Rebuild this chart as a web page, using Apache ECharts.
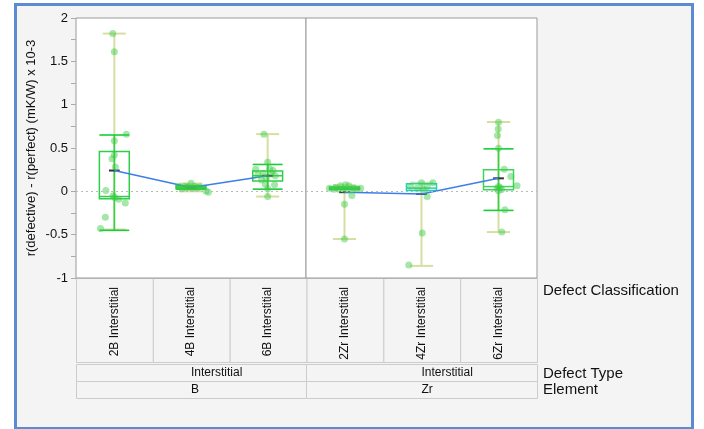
<!DOCTYPE html>
<html><head><meta charset="utf-8">
<script src="https://cdn.jsdelivr.net/npm/echarts@6/dist/echarts.min.js"></script>
<style>html,body{margin:0;padding:0;background:#fff;}#c{width:704px;height:429px;}</style>
</head><body><div id="c"></div>
<script>
// ---------- DATA ----------
const categoriesB = ['2B Interstitial', '4B Interstitial', '6B Interstitial'];
const categoriesZr = ['2Zr Interstitial', '4Zr Interstitial', '6Zr Interstitial'];
const defectTypeLabels = ['Interstitial', 'Interstitial'];
const elementLabels = ['B', 'Zr'];
const rowTitles = ['Defect Classification', 'Defect Type', 'Element'];
const yTitle = 'r(defective) - r(perfect) (mK/W) x 10-3';

// box plot summaries
const whiskerLowB  = [-0.44, 0.00, -0.06];
const q1B          = [-0.085, 0.03, 0.12];
const medianB      = [-0.06, 0.045, 0.18];
const q3B          = [0.46, 0.065, 0.236];
const whiskerHighB = [1.82, 0.09, 0.66];
const meanB        = [0.24, 0.045, 0.18];
const sdLowB       = [-0.45, 0.025, 0.025];
const sdHighB      = [0.65, 0.065, 0.31];

const whiskerLowZr  = [-0.55, -0.86, -0.47];
const q1Zr          = [0.02, 0.01, 0.017];
const medianZr      = [0.035, 0.037, 0.055];
const q3Zr          = [0.05, 0.087, 0.248];
const whiskerHighZr = [0.07, 0.10, 0.80];
const meanZr        = [-0.01, -0.03, 0.15];
const sdLowZr       = [null, null, -0.22];
const sdHighZr      = [null, null, 0.49];

// individual points (values) and their horizontal jitter (in category units)
const pts2B = [1.82, 1.61, 0.66, 0.585, 0.42, 0.375, 0.28, 0.01, -0.05, -0.07, -0.09, -0.136, -0.30, -0.43];
const jit2B = [-0.02, 0, 0.157, 0, 0, -0.03, 0.013, -0.11, -0.017, 0.004, 0.056, 0.143, -0.117, -0.18];
const pts4B = [0.055, 0.06, 0.094, 0.05, 0.055, 0.05, 0.005, -0.01, 0.03, 0.035, 0.045, 0.04];
const jit4B = [-0.157, -0.078, 0, -0.035, 0.05, 0.117, 0.196, 0.226, -0.12, 0.02, -0.06, 0.08];
const pts6B = [0.66, 0.336, 0.256, 0.26, 0.24, 0.21, 0.2, 0.19, 0.18, 0.15, 0.13, 0.083, 0.075, 0.03, -0.06];
const jit6B = [-0.048, 0, -0.156, 0.026, 0.07, -0.06, 0.048, -0.126, 0.1, -0.017, -0.08, -0.03, 0.09, 0, 0];
const pts2Zr = [0.037, 0.045, 0.063, 0.075, 0.063, 0.037, 0.037, 0.025, 0.025, 0.017, 0.025, 0.03, -0.148, -0.048, -0.55];
const jit2Zr = [-0.196, -0.117, -0.052, 0.013, 0.057, 0.12, 0.21, -0.074, -0.01, 0.078, -0.14, 0.16, 0, 0.096, 0];
const pts4Zr = [0.1, 0.1, 0.055, 0.055, 0.037, 0.025, -0.06, -0.48, -0.85];
const jit4Zr = [0, 0.148, -0.143, 0.074, -0.057, 0.02, 0.074, 0.01, -0.165];
const pts6Zr = [0.797, 0.72, 0.643, 0.497, 0.256, 0.17, 0.063, 0.055, 0.03, 0.04, 0.02, 0.006, -0.213, -0.47];
const jit6Zr = [0, -0.004, -0.013, 0, 0.074, 0.16, 0.24, 0, -0.02, 0.02, 0.04, 0, 0.083, 0.043];

// ---------- STYLE / LAYOUT ----------
const FONT = '"Liberation Sans", Arial, sans-serif';
const C_WHISK = '#d5dfa2', C_BOX = '#2fce48', C_SD = '#17cf35', C_MEAN = '#333333';
const C_PT = 'rgba(58, 204, 66, 0.58)', C_LINE = '#3d7fe8';
const boxColorsB = [C_BOX, C_BOX, C_BOX];
const boxColorsZr = [C_BOX, '#22d3b4', '#3fd55a'];
const PLOT_TOP = 18, PLOT_H = 260, L0 = 76, W0 = 230, L1 = 306, W1 = 231;

function buildStats(lo, a, m, b, hi, mean, sdl, sdh) {
  return lo.map((v, i) => ({ i, lo: v, q1: a[i], med: m[i], q3: b[i], hi: hi[i], mean: mean[i], sdl: sdl[i], sdh: sdh[i] }));
}
const statsB = buildStats(whiskerLowB, q1B, medianB, q3B, whiskerHighB, meanB, sdLowB, sdHighB);
const statsZr = buildStats(whiskerLowZr, q1Zr, medianZr, q3Zr, whiskerHighZr, meanZr, sdLowZr, sdHighZr);

function makeRender(stats, colors) {
  return function (params, api) {
    const s = stats[params.dataIndex];
    const unit = api.size([1, 0])[0];
    const cx = api.coord([s.i, 0])[0];
    const Y = v => api.coord([s.i, v])[1];
    const ch = [];
    const hw = unit * 0.15, bw = unit * 0.195, sw = unit * 0.195, mw = unit * 0.07;
    ch.push({ type: 'line', shape: { x1: cx, y1: Y(s.lo), x2: cx, y2: Y(s.hi) }, style: { stroke: C_WHISK, lineWidth: 2 } });
    ch.push({ type: 'line', shape: { x1: cx - hw, y1: Y(s.hi), x2: cx + hw, y2: Y(s.hi) }, style: { stroke: C_WHISK, lineWidth: 2 } });
    ch.push({ type: 'line', shape: { x1: cx - hw, y1: Y(s.lo), x2: cx + hw, y2: Y(s.lo) }, style: { stroke: C_WHISK, lineWidth: 2 } });
    if (s.sdl !== null && s.sdh !== null) {
      ch.push({ type: 'line', shape: { x1: cx, y1: Y(s.sdl), x2: cx, y2: Y(s.sdh) }, style: { stroke: C_SD, lineWidth: 1.6, opacity: 0.85 } });
      ch.push({ type: 'line', shape: { x1: cx - sw, y1: Y(s.sdh), x2: cx + sw, y2: Y(s.sdh) }, style: { stroke: C_SD, lineWidth: 1.6 } });
      ch.push({ type: 'line', shape: { x1: cx - sw, y1: Y(s.sdl), x2: cx + sw, y2: Y(s.sdl) }, style: { stroke: C_SD, lineWidth: 1.6 } });
    }
    const yt = Y(s.q3), yb = Y(s.q1);
    ch.push({ type: 'rect', shape: { x: cx - bw, y: yt, width: 2 * bw, height: Math.max(yb - yt, 1) }, style: { stroke: colors[s.i], fill: 'none', lineWidth: 1.5 } });
    ch.push({ type: 'line', shape: { x1: cx - bw, y1: Y(s.med), x2: cx + bw, y2: Y(s.med) }, style: { stroke: colors[s.i], lineWidth: 1.5 } });
    ch.push({ type: 'line', shape: { x1: cx - mw, y1: Y(s.mean), x2: cx + mw, y2: Y(s.mean) }, style: { stroke: C_MEAN, lineWidth: 2 }, z2: 10 });
    return { type: 'group', children: ch };
  };
}

function pointData(vals, jit, idx) { return vals.map((v, k) => [idx + jit[k], v]); }
const scatterB = [].concat(pointData(pts2B, jit2B, 0), pointData(pts4B, jit4B, 1), pointData(pts6B, jit6B, 2));
const scatterZr = [].concat(pointData(pts2Zr, jit2Zr, 0), pointData(pts4Zr, jit4Zr, 1), pointData(pts6Zr, jit6Zr, 2));

const catAxisBase = {
  type: 'category', boundaryGap: true,
  axisLine: { show: false }, axisTick: { show: false }, splitLine: { show: false },
  axisLabel: { rotate: 90, margin: 9, fontSize: 12, fontFamily: FONT, color: '#111' }
};
const valXBase = { type: 'value', min: -0.5, max: 2.5, show: false, axisLine: { onZero: false } };
const yBase = { type: 'value', min: -1, max: 2, interval: 0.5, position: 'left', splitLine: { show: false } };

const zeroLine = {
  silent: true, symbol: 'none', label: { show: false },
  lineStyle: { color: '#bbbbbb', type: [2, 3], width: 1 },
  data: [{ yAxis: 0 }]
};

const graphics = [
  { type: 'rect', left: 14, top: 3, shape: { width: 677, height: 424 }, style: { fill: '#f4f4f4', stroke: '#5a8bd3', lineWidth: 3 }, z: -10 }
];
const bandCols = 6, bandL = L0, bandW = W0 + W1;
for (let k = 0; k < bandCols; k++) {
  const colL = bandL + k * bandW / bandCols;
  graphics.push({ type: 'rect', left: colL, top: PLOT_TOP + PLOT_H, shape: { width: bandW / bandCols, height: 84 }, style: { fill: '#f4f4f4', stroke: '#cccccc', lineWidth: 1 }, z: -5 });
}
[defectTypeLabels, elementLabels].forEach((arr, r) => {
  arr.forEach((t, k) => {
    const l = k === 0 ? L0 : L1, w = k === 0 ? W0 : W1;
    const top = 364 + r * 17;
    graphics.push({ type: 'rect', left: l, top: top, shape: { width: w, height: 17 }, style: { fill: '#f4f4f4', stroke: '#cccccc', lineWidth: 1 }, z: -5 });
    graphics.push({ type: 'text', left: l + w / 2, top: top + 3, style: { text: t, font: '12px ' + FONT, fill: '#111', textAlign: 'center' }, z: 5 });
  });
});
const titleTops = [283, 366, 382];
rowTitles.forEach((t, r) => {
  graphics.push({ type: 'text', left: 543, top: titleTops[r], style: { text: t, font: '15px ' + FONT, fill: '#111' }, z: 5 });
});

const option = {
  animation: false,
  backgroundColor: '#ffffff',
  graphic: graphics,
  grid: [
    { left: L0, top: PLOT_TOP, width: W0, height: PLOT_H, show: true, backgroundColor: '#fff', borderColor: '#9a9a9a', borderWidth: 1 },
    { left: L1, top: PLOT_TOP, width: W1, height: PLOT_H, show: true, backgroundColor: '#fff', borderColor: '#9a9a9a', borderWidth: 1 }
  ],
  xAxis: [
    Object.assign({}, catAxisBase, { gridIndex: 0, data: categoriesB }),
    Object.assign({}, catAxisBase, { gridIndex: 1, data: categoriesZr }),
    Object.assign({}, valXBase, { gridIndex: 0 }),
    Object.assign({}, valXBase, { gridIndex: 1 })
  ],
  yAxis: [
    Object.assign({}, yBase, {
      gridIndex: 0,
      name: yTitle, nameLocation: 'middle', nameGap: 38, nameRotate: 90,
      nameTextStyle: { fontSize: 13, fontFamily: FONT, color: '#111' },
      axisLine: { show: false, onZero: false },
      axisTick: { show: true, length: 5, lineStyle: { color: '#aaaaaa' } },
      minorTick: { show: true, splitNumber: 2, length: 5, lineStyle: { color: '#aaaaaa' } },
      axisLabel: { fontSize: 13, fontFamily: FONT, color: '#111', margin: 8 }
    }),
    Object.assign({}, yBase, { gridIndex: 1, show: false, axisLine: { onZero: false } })
  ],
  series: [
    { type: 'custom', xAxisIndex: 2, yAxisIndex: 0, renderItem: makeRender(statsB, boxColorsB), data: statsB.map(s => [s.i, s.lo, s.hi]), encode: { x: 0, y: [1, 2] }, z: 2, markLine: zeroLine },
    { type: 'custom', xAxisIndex: 3, yAxisIndex: 1, renderItem: makeRender(statsZr, boxColorsZr), data: statsZr.map(s => [s.i, s.lo, s.hi]), encode: { x: 0, y: [1, 2] }, z: 2, markLine: zeroLine },
    { type: 'line', xAxisIndex: 2, yAxisIndex: 0, data: meanB.map((m, i) => [i, m]), symbol: 'none', lineStyle: { color: C_LINE, width: 1.5 }, z: 3 },
    { type: 'line', xAxisIndex: 3, yAxisIndex: 1, data: meanZr.map((m, i) => [i, m]), symbol: 'none', lineStyle: { color: C_LINE, width: 1.5 }, z: 3 },
    { type: 'scatter', xAxisIndex: 2, yAxisIndex: 0, data: scatterB, symbolSize: 7, itemStyle: { color: C_PT }, z: 4 },
    { type: 'scatter', xAxisIndex: 3, yAxisIndex: 1, data: scatterZr, symbolSize: 7, itemStyle: { color: C_PT }, z: 4 }
  ]
};
const chart = echarts.init(document.getElementById('c'), null, { renderer: 'canvas' });
chart.setOption(option);
</script></body></html>
